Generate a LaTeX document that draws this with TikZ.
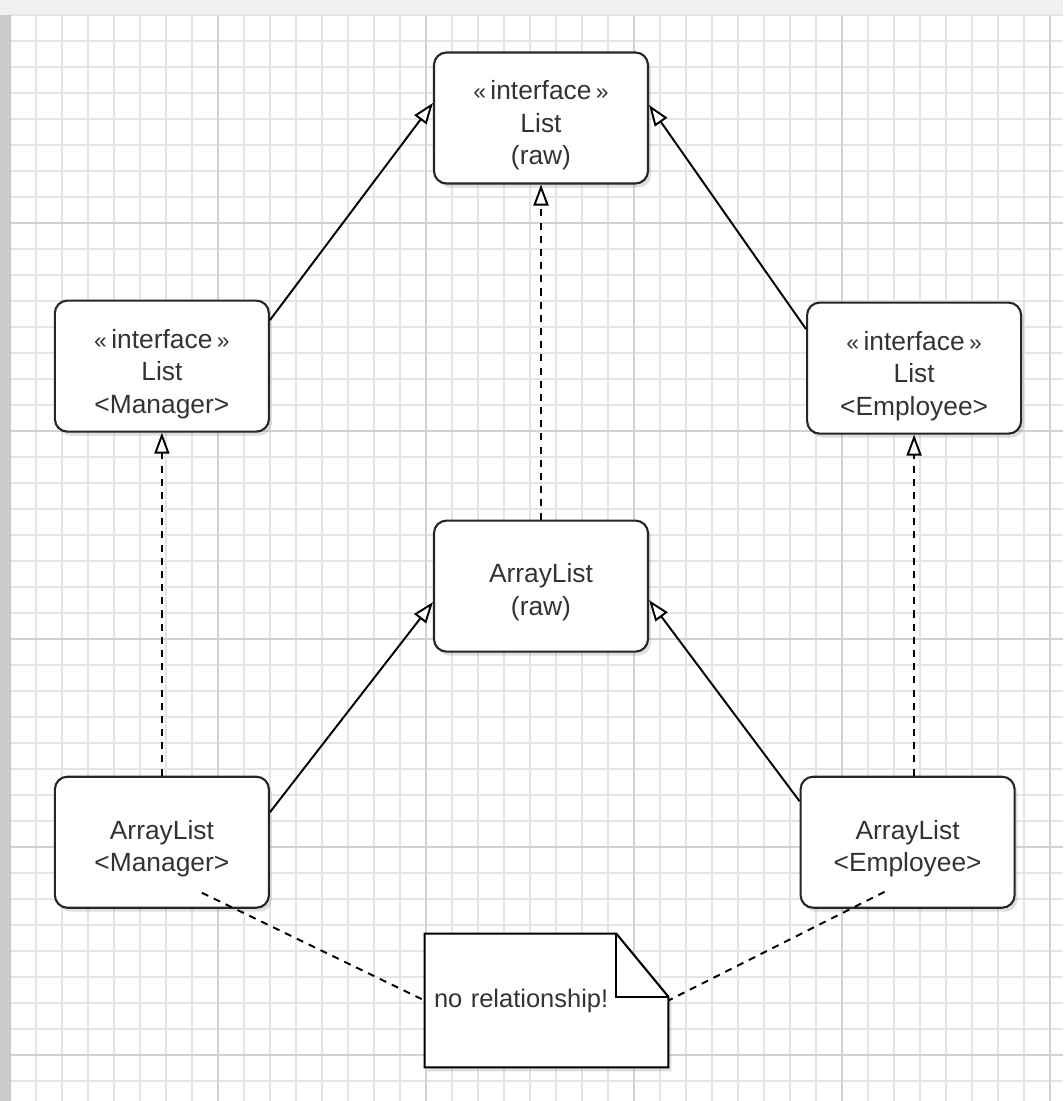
\documentclass[tikz,border=0pt]{standalone}
\usepackage{fontspec}
\setmainfont{Liberation Sans}
\usepackage{xcolor}
\usepackage{tikz}
\usetikzlibrary{positioning,arrows.meta,shadows}
\pgfdeclarelayer{grid}
\pgfdeclarelayer{under}
\pgfsetlayers{grid,under,main}
\newcommand{\stereo}{\rule{0pt}{19.5pt}{\fontsize{13}{13}\selectfont«}\,interface\,{\fontsize{13}{13}\selectfont»}}
\newcommand{\lift}{\rule{0pt}{18pt}}

\begin{document}
\begin{tikzpicture}[
  cls/.style={draw=black!85,line width=1.2pt,rounded corners=0.25cm,fill=white,
    minimum width=4.28cm,minimum height=2.62cm,align=center,text=black!80,
    font=\fontsize{15}{18.5}\selectfont,
    drop shadow={shadow xshift=0.06cm,shadow yshift=-0.08cm,opacity=0.25}},
  note/.style={minimum width=4.86cm,minimum height=2.66cm,inner xsep=0.18cm,
    text width=4.5cm,align=left,text=black!80,font=\fontsize{14.5}{18}\selectfont},
  inh/.style={-{Triangle[length=0.42cm,width=0.3cm,fill=white]},line width=1.1pt},
  impl/.style={inh,dash pattern=on 4pt off 3.5pt},
  link/.style={line width=1.1pt,dash pattern=on 4pt off 3.5pt}
]
\useasboundingbox (0,0) rectangle (21.26,-22.02);

% paper
\begin{pgfonlayer}{grid}
\fill[gray!12] (0,0) rectangle (21.26,-22.02);
\fill[gray!40] (0,-0.3) rectangle (0.2,-22.02);
\fill[white] (0.2,-0.3) rectangle (21.26,-22.02);
\foreach \i in {0,...,40}
  \draw[gray!20,line width=0.7pt] (0.2+0.52*\i,-0.3) -- (0.2+0.52*\i,-22.02);
\foreach \j in {0,...,41}
  \draw[gray!20,line width=0.7pt] (0.2,-0.3-0.52*\j) -- (21.26,-0.3-0.52*\j);
\foreach \i in {1,...,5}
  \draw[gray!35,line width=0.9pt] (0.2+4.16*\i,-0.3) -- (0.2+4.16*\i,-22.02);
\foreach \j in {1,...,5}
  \draw[gray!35,line width=0.9pt] (0.2,-0.3-4.16*\j) -- (21.26,-0.3-4.16*\j);
\draw[gray!45,line width=1pt] (0.2,-0.3) -- (0.2,-22.02);
\end{pgfonlayer}

\node[cls] (lr) at (10.82,-2.36) {\stereo\\List\\(raw)};
\node[cls,below left=2.3cm and 3.26cm of lr] (lm) {\stereo\\List\\<Manager>};
\node[cls,below right=2.34cm and 3.14cm of lr] (le) {\stereo\\List\\<Employee>};
\node[cls,below=6.7cm of lr] (ar) {\lift ArrayList\\(raw)};
\node[cls,below=6.86cm of lm] (alm) {\lift ArrayList\\<Manager>};
\node[cls,below=6.82cm of le,xshift=-0.13cm] (ale) {\lift ArrayList\\<Employee>};
\node[note,below=5.62cm of ar,xshift=0.11cm] (nt) {no relationship!};

% note outline with folded corner
\begin{pgfonlayer}{under}
\draw[line width=1.2pt,fill=white,
  drop shadow={shadow xshift=0.06cm,shadow yshift=-0.08cm,opacity=0.25}]
  (nt.north west) -- ([xshift=-1.04cm]nt.north east) -- ([yshift=-1.26cm]nt.north east)
  -- (nt.south east) -- (nt.south west) -- cycle;
\draw[line width=1.2pt] ([xshift=-1.04cm]nt.north east) |- ([yshift=-1.26cm]nt.north east);
\end{pgfonlayer}

\coordinate (mgrEnd) at ([shift={(0.8,0.32)}]alm.south);
\coordinate (empEnd) at ([shift={(-0.46,0.34)}]ale.south);

\draw[inh] ([yshift=0.92cm]lm.east) -- ([yshift=0.3cm]lr.west);
\draw[inh] ([yshift=0.78cm]le.west) -- ([yshift=0.26cm]lr.east);
\draw[inh] ([yshift=0.6cm]alm.east) -- ([yshift=-0.32cm]ar.west);
\draw[inh] ([yshift=0.82cm]ale.west) -- ([yshift=-0.28cm]ar.east);
\draw[impl] (ar.north) -- (ar.north |- lr.south);
\draw[impl] (alm.north) -- (lm.south);
\draw[impl] (le.south |- ale.north) -- (le.south);
\draw[link] (mgrEnd) -- (nt.west);
\draw[link] (empEnd) -- (nt.east);
\end{tikzpicture}
\end{document}
